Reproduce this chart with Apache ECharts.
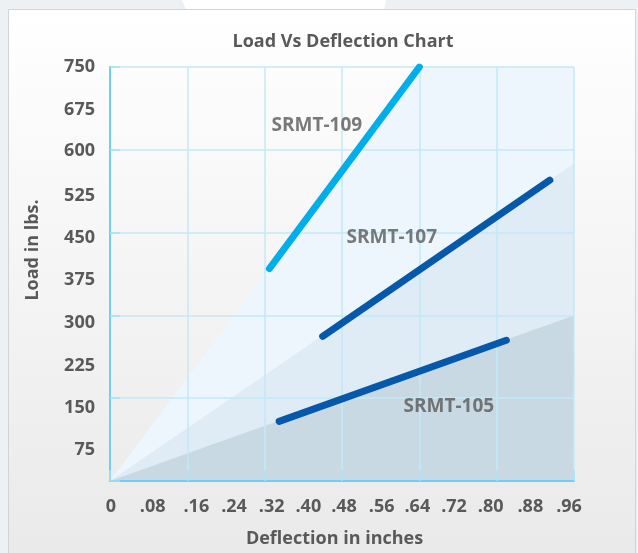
<!DOCTYPE html>
<html>
<head>
<meta charset="utf-8">
<script src="https://cdn.jsdelivr.net/npm/echarts@6/dist/echarts.min.js"></script>
<style>
html, body { margin: 0; padding: 0; }
#chart { width: 638px; height: 553px; }
</style>
</head>
<body>
<div id="chart"></div>
<script>
// tick labels
var xTickLabels = ['0', '.08', '.16', '.24', '.32', '.40', '.48', '.56', '.64', '.72', '.80', '.88', '.96'];
var yTickLabels = ['', '75', '150', '225', '300', '375', '450', '525', '600', '675', '750'];

// the three load lines [deflection, load]
var srmt109 = [[0.33, 385], [0.64, 750]];
var srmt107 = [[0.44, 262], [0.91, 545]];
var srmt105 = [[0.35, 108], [0.82, 255]];

// shaded fans behind the lines
var fan109 = [[0, 0], [0.64, 750], [0.96, 750]];
var fan107 = [[0, 0], [0.96, 575]];
var fan105 = [[0, 0], [0.96, 300]];

// line names and where they sit
var lineNames = ['SRMT-109', 'SRMT-107', 'SRMT-105'];
var nameX = [0.428, 0.583, 0.701];
var nameY = [643, 441, 135];

// the labels in the original are hand placed, not exactly on the ticks (px nudges)
var xLabelShift = [1, 4, 9, 8, 7, 5, 2, 1, -2, -4, -6, -5, -5];
var yLabelShift = [0, 10, 9.5, 9, 7.5, 5.5, 5, 4.5, 1.5, 1.5, 0];

var textGrey = '#595959';
var font = 'Open Sans';

var myChart = echarts.init(document.getElementById('chart'));

var tickFont = function () {
    return { color: textGrey, fontFamily: font, fontWeight: 'bold', fontSize: 18 };
};

var xRich = {};
for (var i = 0; i < xTickLabels.length; i++) {
    var s = tickFont();
    var d = xLabelShift[i];
    s.padding = d > 0 ? [0, 0, 0, 2 * d] : [0, -2 * d, 0, 0];
    xRich['x' + i] = s;
}
var yRich = {};
for (var j = 0; j < yTickLabels.length; j++) {
    var t = tickFont();
    t.padding = [2 * yLabelShift[j], 0, 0, 0];
    yRich['y' + j] = t;
}

var fanSeries = function (data, color) {
    return {
        type: 'line',
        data: data,
        xAxisIndex: 0,
        yAxisIndex: 0,
        showSymbol: false,
        silent: true,
        z: 1,
        lineStyle: { width: 0 },
        areaStyle: { color: color, opacity: 1 }
    };
};

var loadSeries = function (name, data, color) {
    return {
        name: name,
        type: 'line',
        data: data,
        xAxisIndex: 0,
        yAxisIndex: 0,
        showSymbol: false,
        silent: true,
        z: 5,
        lineStyle: { width: 7, color: color, cap: 'round' }
    };
};

var nameData = [];
for (var k = 0; k < lineNames.length; k++) {
    nameData.push([nameX[k], nameY[k], lineNames[k]]);
}

myChart.setOption({
    backgroundColor: '#edf1f4',
    animation: false,
    graphic: [
        {
            type: 'polygon',
            z: -20,
            silent: true,
            shape: { points: [[182, 0], [386, 0], [384, 10], [186, 10]] },
            style: { fill: '#ffffff' }
        },
        {
            type: 'rect',
            z: -10,
            silent: true,
            shape: { x: 8.5, y: 9.5, width: 627, height: 560 },
            style: {
                fill: new echarts.graphic.LinearGradient(0, 0, 0, 1, [
                    { offset: 0, color: '#ffffff' },
                    { offset: 1, color: '#e9e9e9' }
                ]),
                stroke: '#cfd4d9',
                lineWidth: 1
            }
        }
    ],
    title: {
        text: 'Load Vs Deflection Chart',
        left: 343,
        top: 33,
        textAlign: 'center',
        padding: 0,
        textStyle: { color: textGrey, fontFamily: font, fontWeight: 'bold', fontSize: 18 }
    },
    grid: { left: 110, right: 64, top: 67, bottom: 69 },
    xAxis: [
        {
            type: 'value',
            min: 0,
            max: 0.96,
            interval: 0.08,
            name: 'Deflection in inches',
            nameLocation: 'middle',
            nameGap: 49,
            nameTextStyle: { color: textGrey, fontFamily: font, fontWeight: 'bold', fontSize: 18, padding: [0, 15, 0, 0] },
            axisLine: { show: false },
            axisTick: { show: false },
            splitLine: { show: false },
            axisLabel: {
                margin: 17,
                color: textGrey,
                fontFamily: font,
                fontWeight: 'bold',
                fontSize: 18,
                rich: xRich,
                formatter: function (v) {
                    var n = Math.round(v / 0.08);
                    return '{x' + n + '|' + xTickLabels[n] + '}';
                }
            }
        },
        {
            type: 'value',
            min: 0,
            max: 0.96,
            interval: 0.16,
            z: 3,
            axisLine: { show: true, lineStyle: { color: '#6ccff3', width: 2 } },
            axisTick: { show: true, length: 11, lineStyle: { color: '#a9e0f5', width: 1.5 } },
            axisLabel: { show: false },
            splitLine: { show: true, lineStyle: { color: '#c2e8f7', width: 1.5 } }
        }
    ],
    yAxis: [
        {
            type: 'value',
            min: 0,
            max: 750,
            interval: 75,
            name: 'Load in lbs.',
            nameLocation: 'middle',
            nameGap: 68,
            nameTextStyle: { color: textGrey, fontFamily: font, fontWeight: 'bold', fontSize: 18, padding: [0, 0, 0, 48] },
            axisLine: { show: false },
            axisTick: { show: false },
            splitLine: { show: false },
            axisLabel: {
                margin: 15,
                color: textGrey,
                fontFamily: font,
                fontWeight: 'bold',
                fontSize: 18,
                rich: yRich,
                formatter: function (v) {
                    var n = Math.round(v / 75);
                    return yTickLabels[n] ? '{y' + n + '|' + yTickLabels[n] + '}' : '';
                }
            }
        },
        {
            type: 'value',
            min: 0,
            max: 750,
            interval: 150,
            z: 3,
            axisLine: { show: true, lineStyle: { color: '#6ccff3', width: 2 } },
            axisTick: { show: true, length: 10, lineStyle: { color: '#a9e0f5', width: 1.5 } },
            axisLabel: { show: false },
            splitLine: { show: true, lineStyle: { color: '#c2e8f7', width: 1.5 } }
        }
    ],
    series: [
        fanSeries(fan109, '#eef6fd'),
        fanSeries(fan107, '#dfebf5'),
        fanSeries(fan105, '#c9d9e3'),
        loadSeries('SRMT-109', srmt109, '#00aeea'),
        loadSeries('SRMT-107', srmt107, '#0659aa'),
        loadSeries('SRMT-105', srmt105, '#0659aa'),
        {
            type: 'scatter',
            data: nameData,
            symbolSize: 0,
            silent: true,
            z: 6,
            label: {
                show: true,
                position: 'inside',
                color: textGrey,
                fontFamily: font,
                fontWeight: 'bold',
                fontSize: 19,
                formatter: function (p) { return p.data[2]; }
            }
        }
    ]
});
</script>
</body>
</html>
